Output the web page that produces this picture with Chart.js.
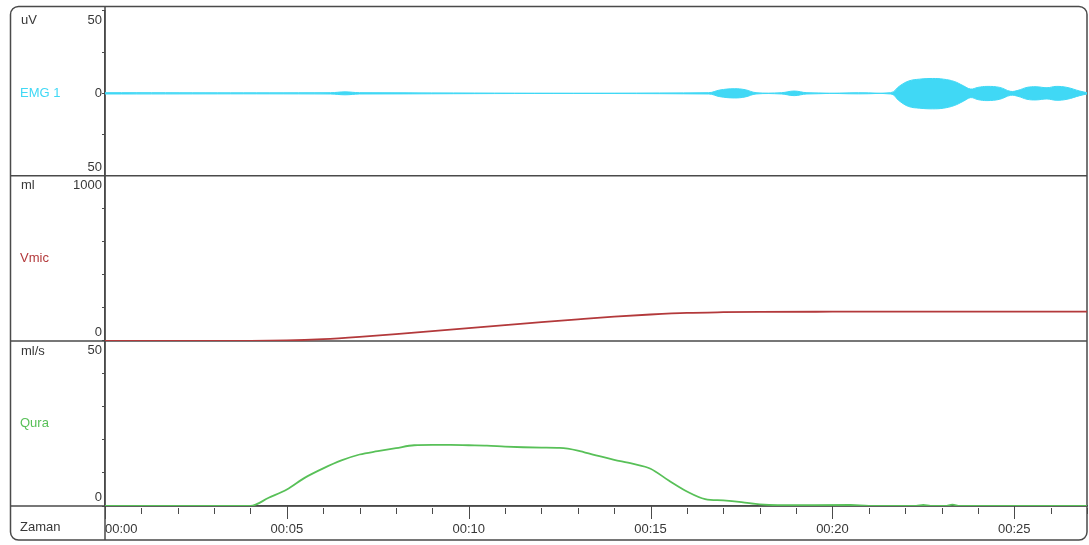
<!DOCTYPE html>
<html>
<head>
<meta charset="utf-8">
<script src="https://cdn.jsdelivr.net/npm/chart.js@4"></script>
<style>
  html, body { margin: 0; padding: 0; background: #fff; }
  #wrap { width: 1089px; height: 545px; }
</style>
</head>
<body>
<div id="wrap"><canvas id="uroChart" width="1089" height="545"></canvas></div>
<script>
// time axis (seconds)
const timeMax = 27;
const timeLabelEvery = 5;

// panel texts
const unitLabels = ["uV", "ml", "ml/s"];
const seriesNames = ["EMG 1", "Vmic", "Qura"];
const bottomLabel = "Zaman";

// y tick labels per panel
const emgTickValues = [50, 0, -50];
const volTickValues = [1000, 0];
const flowTickValues = [50, 0];

// EMG 1 envelope (uV)
const emgTime  = [0, 6.2, 6.6, 7.0, 16.6, 16.9, 17.3, 17.6, 17.9, 18.6, 18.95, 19.3, 21.6, 21.85, 22.1, 22.4, 22.75, 23.05, 23.35, 23.6, 23.8, 24.0, 24.25, 24.6, 24.9, 25.1, 25.35, 25.6, 25.9, 26.15, 26.45, 26.8, 27];
const emgUpper = [0.4, 0.4, 0.9, 0.4, 0.4, 2.0, 2.8, 2.2, 0.4, 0.4, 1.4, 0.4, 0.4, 4.5, 7.5, 8.6, 9.0, 8.6, 7.2, 4.6, 2.6, 3.6, 4.2, 3.6, 1.2, 1.8, 3.6, 4.0, 3.4, 4.2, 3.6, 1.4, 0.4];
const emgLower = [-0.4, -0.4, -0.9, -0.4, -0.4, -2.0, -2.8, -2.2, -0.4, -0.4, -1.4, -0.4, -0.4, -4.8, -8.0, -9.0, -9.4, -9.0, -7.4, -4.8, -2.6, -3.8, -4.4, -3.6, -1.2, -1.8, -3.6, -4.0, -3.4, -4.2, -3.6, -1.4, -0.4];

// Vmic (ml)
const volTime = [0, 4, 5, 6, 7, 8, 9, 10, 11, 12, 13, 14, 15, 16, 17, 18, 20, 22, 27];
const volData = [0, 0, 2.5, 10.8, 24.5, 41, 59, 78, 96, 114, 131, 147, 160, 170, 174, 176, 177, 178, 178];

// Qura (ml/s)
const flowTime = [0, 4.0, 4.5, 5.0, 5.5, 6.0, 6.5, 7.0, 7.5, 8.0, 8.5, 9.0, 9.5, 10.0, 10.5, 11.0, 11.5, 12.0, 12.5, 13.0, 13.5, 14.0, 14.5, 15.0, 15.5, 16.0, 16.5, 17.0, 17.5, 18.0, 18.5, 20.5, 21.0, 22.3, 22.5, 22.7, 23.1, 23.3, 23.5, 27];
const flowData = [0, 0, 2.5, 5.0, 8.6, 11.4, 13.8, 15.6, 16.6, 17.5, 18.4, 18.5, 18.5, 18.4, 18.3, 18.0, 17.8, 17.7, 17.6, 16.8, 15.3, 14.0, 12.8, 11.3, 7.7, 4.4, 2.1, 1.7, 1.2, 0.5, 0.25, 0.3, 0, 0, 0.3, 0, 0, 0.4, 0, 0];

const cyan = "#40d8f5";
const red = "#b3393b";
const green = "#58c058";
const ink = "#383838";
const frameColor = "#4a4a4a";
const fontFamily = "'Liberation Sans', Arial, sans-serif";

function pts(xs, ys) {
  return xs.map((x, i) => ({ x: x, y: ys[i] }));
}

function fmtTime(s) {
  const m = Math.floor(s / 60), r = s % 60;
  return String(m).padStart(2, "0") + ":" + String(r).padStart(2, "0");
}

Chart.defaults.font.family = fontFamily;
Chart.defaults.font.size = 13;
Chart.defaults.color = ink;

const panelDeco = {
  id: "panelDeco",
  beforeDatasetsDraw(chart) {
    const { ctx, chartArea, scales } = chart;
    const L = 10.5, R = 1087, T = 6.5, B = 540;
    const panels = [scales.yEmg, scales.yVol, scales.yFlow];
    const colors = [cyan, red, green];
    const ticks = [emgTickValues, volTickValues, flowTickValues];

    ctx.save();
    ctx.strokeStyle = frameColor;
    ctx.lineWidth = 1.5;
    // panel separators across the whole frame
    panels.forEach(s => {
      ctx.beginPath();
      ctx.moveTo(L, s.bottom);
      ctx.lineTo(R, s.bottom);
      ctx.stroke();
    });
    // left column divider
    ctx.beginPath();
    ctx.moveTo(chartArea.left, T);
    ctx.lineTo(chartArea.left, B);
    ctx.stroke();
    // rounded outer frame
    ctx.beginPath();
    ctx.roundRect(L, T, R - L, B - T, 8);
    ctx.stroke();

    // time ticks
    const xs = scales.x;
    ctx.lineWidth = 1;
    xs.ticks.forEach(t => {
      const x = Math.round(xs.getPixelForValue(t.value)) + 0.5;
      const major = t.value % timeLabelEvery === 0;
      ctx.beginPath();
      ctx.moveTo(x, xs.top + (major ? 0 : 2));
      ctx.lineTo(x, xs.top + (major ? 13 : 8));
      ctx.stroke();
    });

    // panel texts
    ctx.font = "13px " + fontFamily;
    panels.forEach((s, i) => {
      ctx.textAlign = "left";
      ctx.textBaseline = "middle";
      ctx.fillStyle = ink;
      ctx.fillText(unitLabels[i], 21, s.top + 10);
      ctx.fillStyle = colors[i];
      ctx.fillText(seriesNames[i], 20, (s.top + s.bottom) / 2);

      ctx.fillStyle = ink;
      ctx.textAlign = "right";
      ticks[i].forEach(v => {
        const y = s.getPixelForValue(v);
        if (v === s.max) { ctx.textBaseline = "top"; ctx.fillText(String(Math.abs(v)), 102, y + 3); }
        else if (v === s.min) { ctx.textBaseline = "bottom"; ctx.fillText(String(Math.abs(v)), 102, y - 2); }
        else { ctx.textBaseline = "middle"; ctx.fillText(String(Math.abs(v)), 102, y); }
      });
    });
    ctx.textAlign = "left";
    ctx.textBaseline = "middle";
    ctx.fillStyle = ink;
    ctx.fillText(bottomLabel, 20, 527);
    ctx.restore();
  }
};

function yAxis(min, max, step, weight) {
  return {
    type: "linear",
    position: "left",
    stack: "panels",
    stackWeight: 1,
    weight: weight,
    min: min,
    max: max,
    ticks: { stepSize: step, autoSkip: false, callback: () => "" },
    grid: { drawOnChartArea: false, drawTicks: true, tickLength: 3, color: frameColor },
    border: { color: frameColor, width: 1.5 },
    afterFit(scale) { scale.width = 95; }
  };
}

new Chart(document.getElementById("uroChart"), {
  type: "line",
  data: {
    datasets: [
      {
        label: "EMG 1 +",
        data: pts(emgTime, emgUpper),
        yAxisID: "yEmg",
        borderColor: cyan,
        backgroundColor: cyan,
        borderWidth: 1,
        fill: "+1",
        tension: 0.4,
        pointRadius: 0
      },
      {
        label: "EMG 1 -",
        data: pts(emgTime, emgLower),
        yAxisID: "yEmg",
        borderColor: cyan,
        borderWidth: 1,
        fill: false,
        tension: 0.4,
        pointRadius: 0
      },
      {
        label: "Vmic",
        data: pts(volTime, volData),
        yAxisID: "yVol",
        borderColor: red,
        borderWidth: 1.8,
        fill: false,
        cubicInterpolationMode: "monotone",
        pointRadius: 0
      },
      {
        label: "Qura",
        data: pts(flowTime, flowData),
        yAxisID: "yFlow",
        borderColor: green,
        borderWidth: 1.8,
        fill: false,
        cubicInterpolationMode: "monotone",
        pointRadius: 0
      }
    ]
  },
  options: {
    responsive: false,
    animation: false,
    layout: { autoPadding: false, padding: { left: 10, top: 7, right: 2, bottom: 5 } },
    plugins: {
      legend: { display: false },
      tooltip: { enabled: false }
    },
    scales: {
      x: {
        type: "linear",
        position: "bottom",
        min: 0,
        max: timeMax,
        ticks: {
          stepSize: 1,
          autoSkip: false,
          maxRotation: 0,
          align: "inner",
          padding: 16,
          color: ink,
          callback: v => (v % timeLabelEvery === 0 ? fmtTime(v) : "")
        },
        grid: { drawOnChartArea: false, drawTicks: false },
        border: { color: frameColor, width: 1.5 },
        afterFit(scale) {
          scale.height = 34;
          scale.paddingLeft = 0;
          scale.paddingRight = 0;
        }
      },
      yEmg: yAxis(-50, 50, 25, 3),
      yVol: yAxis(0, 1000, 200, 2),
      yFlow: yAxis(0, 50, 10, 1)
    }
  },
  plugins: [panelDeco]
});
</script>
</body>
</html>
